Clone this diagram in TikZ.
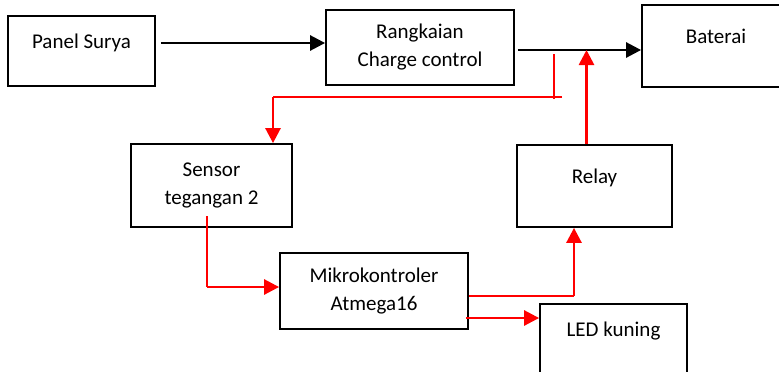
\documentclass[tikz,border=0pt]{standalone}
\usepackage{fontspec}
\setmainfont{Carlito}
\usetikzlibrary{arrows.meta, positioning, calc}

\begin{document}
\begin{tikzpicture}[
        x=1pt, y=-1pt,
        font=\fontsize{21}{28}\selectfont,
        box/.style={draw, line width=1.8pt, align=center, inner sep=0pt},
        single/.style={text height=15pt, text depth=21pt},
        arrow/.style={-{Triangle[length=15pt, width=15pt]}, line width=2.7pt},
        redarrow/.style={arrow, red},
        redline/.style={red, line width=1.2pt}
    ]
    \useasboundingbox (0,0) rectangle (779,372);
    \node[box, single, minimum width=147pt, minimum height=70pt] (panel) at (81.5,51) {Panel Surya};
    \node[box, minimum width=188pt, minimum height=75pt] (charge) at (420,47.5) {Rangkaian\\Charge control};
    \node[box, single, minimum width=148pt, minimum height=82pt] (baterai) at (716,46) {Baterai};
    \node[box, minimum width=161pt, minimum height=83pt] (sensor) at (211.5,185.5) {Sensor\\tegangan 2};
    \node[box, single, minimum width=155pt, minimum height=82pt] (relay) at (594.5,186) {Relay};
    \node[box, minimum width=188pt, minimum height=76pt] (mikro) at (374,291) {Mikrokontroler\\Atmega16};
    \node[box, single, minimum width=147pt, minimum height=70pt] (led) at (613.5,339) {LED kuning};

    % jalur daya
    \coordinate (pv) at ($(panel.east)+(5,-8)$);
    \draw[arrow] (pv) -- (pv -| charge.west);
    \coordinate (co) at ($(charge.east)+(3,2.5)$);
    \draw[arrow] (co) -- (co -| baterai.west);
    \coordinate (rt) at ($(relay.north)+(-8,0)$);
    \draw[redarrow] (rt) -- (rt |- co);

    % umpan balik ke sensor
    \coordinate (fbt) at (554,54);
    \coordinate (fbb) at (554,99);
    \draw[redline] (fbt) -- (fbb);
    \coordinate (fbr) at (562,97);
    \coordinate (fbl) at (273,97);
    \draw[redline] (fbr) -- (fbl);
    \draw[redarrow] (fbl) -- (fbl |- sensor.north);

    % sensor ke mikrokontroler
    \coordinate (so) at (207,216);
    \coordinate (sc) at (207,287);
    \draw[redline] (so) -- (sc);
    \draw[redarrow] (sc) -- (sc -| mikro.west);

    % mikrokontroler ke relay dan LED
    \coordinate (mr) at ($(mikro.east)+(0,5)$);
    \coordinate (rb) at ($(relay.south)+(-20.5,0)$);
    \draw[redline] (mr) -- (mr -| rb);
    \draw[redarrow] (mr -| rb) -- (rb);
    \coordinate (ml) at ($(mikro.east)+(-3,27)$);
    \draw[redarrow] (ml) -- (ml -| led.west);
\end{tikzpicture}
\end{document}
